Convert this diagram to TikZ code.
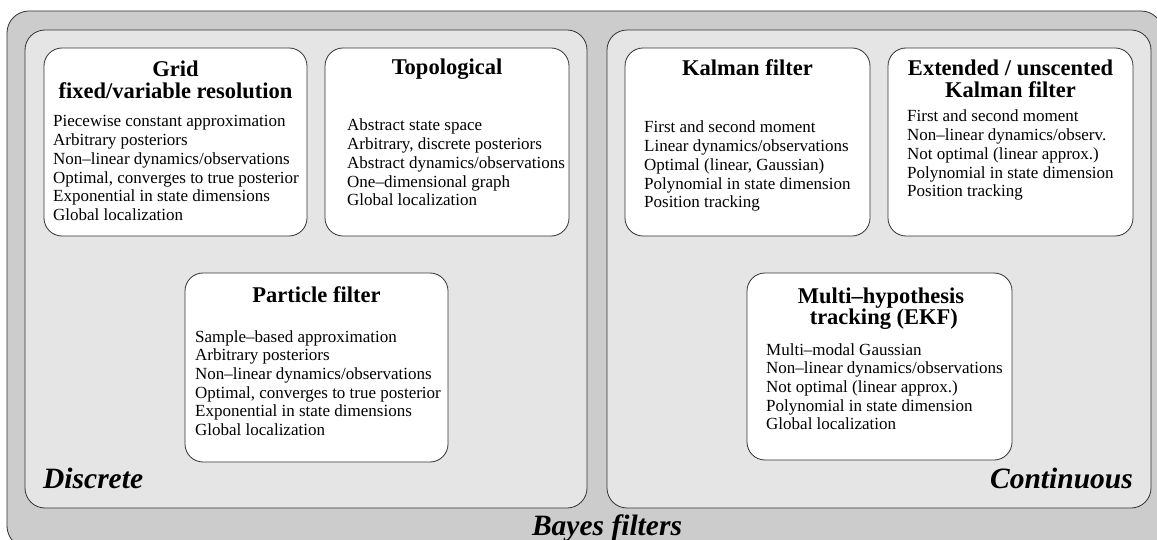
\documentclass[tikz,border=0pt]{standalone}
\usepackage{fontspec}
\setmainfont{Liberation Serif}
\definecolor{outerfill}{HTML}{CCCCCC}
\definecolor{panelfill}{HTML}{E5E5E5}
\definecolor{edge}{HTML}{333333}
\newcommand{\bodyfont}{\fontsize{17}{18.7}\selectfont}
\newcommand{\titlefont}{\fontsize{22.5}{20.5}\selectfont\bfseries}
\newcommand{\labelfont}{\fontsize{29.5}{30}\selectfont\bfseries\itshape}
\begin{document}
\begin{tikzpicture}[x=1pt,y=-1pt,
  frame/.style={draw=edge, line width=0.8pt, rounded corners=20pt, inner sep=0pt, outer sep=0pt, anchor=north west},
  outerbox/.style={frame, fill=outerfill, rounded corners=22pt},
  panel/.style={frame, fill=panelfill},
  filterbox/.style={frame, fill=white, rounded corners=18pt},
  title/.style={anchor=base, inner sep=0pt, font=\titlefont},
  body/.style={anchor=base west, inner sep=0pt, font=\bodyfont},
  group/.style={inner sep=0pt, font=\labelfont}]
\useasboundingbox (0,0) rectangle (1157,540);
\clip (0,0) rectangle (1157,540);
\fill[white] (0,0) rectangle (1157,540);
\node[outerbox, minimum width=1156pt, minimum height=537pt] (bayes) at (7,11) {};
\node[panel, minimum width=562pt, minimum height=478pt] (discrete) at (25,30) {};
\node[panel, minimum width=544pt, minimum height=478pt] (continuous) at (607,30) {};
% filter boxes
\node[filterbox, minimum width=263pt, minimum height=188pt] (grid) at (44,48) {};
\node[filterbox, minimum width=244pt, minimum height=188pt] (topo) at (325,48) {};
\node[filterbox, minimum width=245pt, minimum height=188pt] (kalman) at (625,48) {};
\node[filterbox, minimum width=245pt, minimum height=188pt] (ekf) at (888,48) {};
\node[filterbox, minimum width=263pt, minimum height=189pt] (particle) at (185,273) {};
\node[filterbox, minimum width=265pt, minimum height=187pt] (mht) at (747,273) {};
% titles
\node[title] (gridT) at (175.5,77) {\begin{tabular}[t]{@{}c@{}}Grid\\fixed/variable resolution\end{tabular}};
\node[title] (topoT) at (447,75) {Topological};
\node[title] (kalmanT) at (747.5,76) {Kalman filter};
\node[title] (ekfT) at (1010.5,76) {\begin{tabular}[t]{@{}c@{}}Extended / unscented\\Kalman filter\end{tabular}};
\node[title] (particleT) at (316.5,302) {Particle filter};
\node[title] (mhtT) at (881,303) {\begin{tabular}[t]{@{}c@{}}Multi--hypothesis\\\ tracking (EKF)\end{tabular}};
% bodies
\node[body] (gridB) at (53,127) {\begin{tabular}[t]{@{}l@{}}Piecewise constant approximation\\Arbitrary posteriors\\Non--linear dynamics/observations\\Optimal, converges to true posterior\\Exponential in state dimensions\\Global localization\end{tabular}};
\node[body] (topoB) at (347,131) {\begin{tabular}[t]{@{}l@{}}Abstract state space\\Arbitrary, discrete posteriors\\Abstract dynamics/observations\\One--dimensional graph\\Global localization\end{tabular}};
\node[body] (kalmanB) at (644,133) {\begin{tabular}[t]{@{}l@{}}First and second moment\\Linear dynamics/observations\\Optimal (linear, Gaussian)\\Polynomial in state dimension\\Position tracking\end{tabular}};
\node[body] (ekfB) at (907,122) {\begin{tabular}[t]{@{}l@{}}First and second moment\\Non--linear dynamics/observ.\\Not optimal (linear approx.)\\Polynomial in state dimension\\Position tracking\end{tabular}};
\node[body] (particleB) at (195,342) {\begin{tabular}[t]{@{}l@{}}Sample--based approximation\\Arbitrary posteriors\\Non--linear dynamics/observations\\Optimal, converges to true posterior\\Exponential in state dimensions\\Global localization\end{tabular}};
\node[body] (mhtB) at (766,355) {\begin{tabular}[t]{@{}l@{}}Multi--modal Gaussian\\Non--linear dynamics/observations\\Not optimal (linear approx.)\\Polynomial in state dimension\\Global localization\end{tabular}};
% group labels
\node[group, anchor=base west] (discreteL) at (43,488) {Discrete};
\node[group, anchor=base east] (continuousL) at (1133,488) {Continuous};
\node[group, anchor=base] (bayesL) at (607,535) {Bayes filters};
\end{tikzpicture}
\end{document}
